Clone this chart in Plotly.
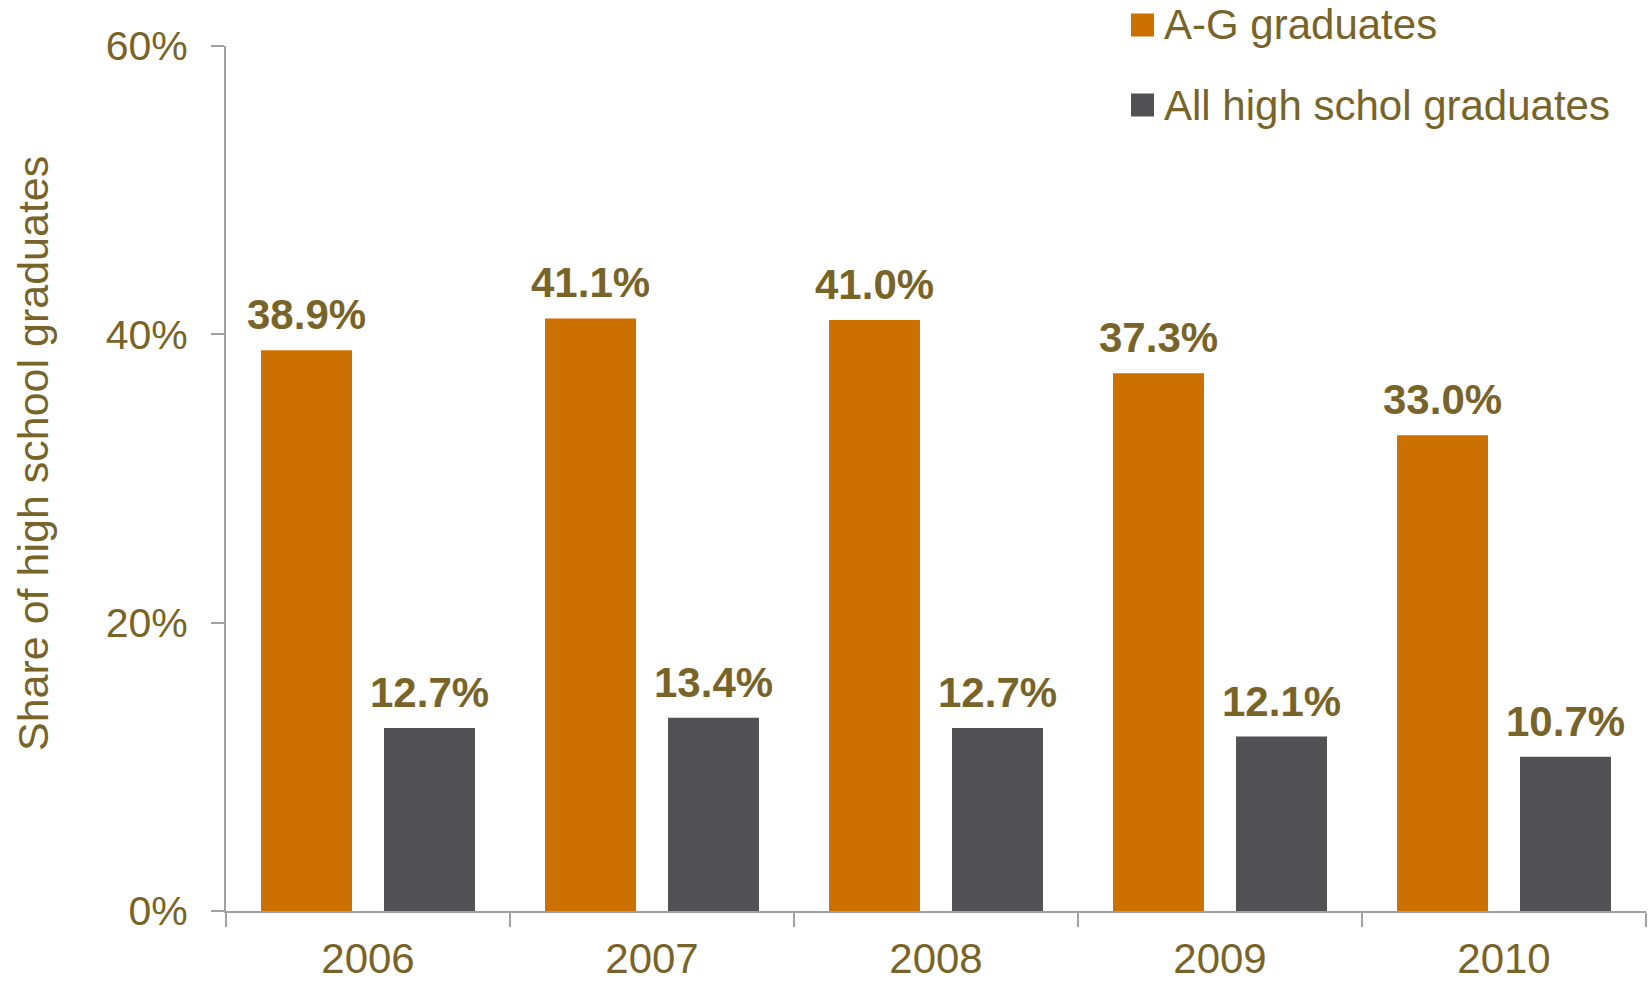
import plotly.graph_objects as go

years = ["2006", "2007", "2008", "2009", "2010"]
series_names = ["A-G graduates", "All high schol graduates"]
ag_values = [38.9, 41.1, 41.0, 37.3, 33.0]
all_values = [12.7, 13.4, 12.7, 12.1, 10.7]
y_ticks = [0, 20, 40, 60]
y_tick_labels = ["0%", "20%", "40%", "60%"]
y_title = "Share of high school graduates"

ORANGE = "#CC7000"
GRAY = "#525254"
TEXT = "#786428"
AXIS = "#A0A0A0"
FONT = "Liberation Sans, Arial, sans-serif"

W, H = 1649, 983
L, R, T, B = 226, 3, 46, 72
PW, PH = W - L - R, H - T - B
BARGAP, BARGROUPGAP = 0.134, 0.26

fig = go.Figure()
series = [(series_names[0], ag_values, ORANGE), (series_names[1], all_values, GRAY)]
for name, vals, col in series:
    fig.add_trace(go.Bar(
        x=years, y=vals, name=name, marker=dict(color=col, line=dict(width=0)),
        showlegend=False, hoverinfo="x+y",
    ))

# value labels: centred over each bar of the group (x given as category index)
cat_px = PW / len(years)
slot_px = (1 - BARGAP) * cat_px / len(series)
for i, (name, vals, col) in enumerate(series):
    shift = (i - (len(series) - 1) / 2) * slot_px
    for j, v in enumerate(vals):
        fig.add_annotation(x=j, y=v, xref="x", yref="y", text=f"<b>{v:.1f}%</b>",
                           showarrow=False, xanchor="center", yanchor="bottom",
                           xshift=shift, yshift=10,
                           font=dict(family=FONT, size=42, color=TEXT))

# legend drawn manually (larger swatches than plotly's legend allows)
def px_x(p):
    return (p - L) / PW

def px_y(p):
    return (H - B - p) / PH

legend_rows = [(series_names[0], ORANGE, 25), (series_names[1], GRAY, 105)]
for name, col, cy in legend_rows:
    fig.add_shape(type="rect", xref="paper", yref="paper",
                  x0=px_x(1131), x1=px_x(1154), y0=px_y(cy - 11.5), y1=px_y(cy + 11.5),
                  fillcolor=col, line=dict(width=0))
    fig.add_annotation(xref="paper", yref="paper", x=px_x(1162), y=px_y(cy),
                       xanchor="left", yanchor="middle", text=name, showarrow=False,
                       font=dict(family=FONT, size=42, color=TEXT))

# y-axis title
fig.add_annotation(xref="paper", yref="paper", x=px_x(33), y=px_y(454),
                   xanchor="center", yanchor="middle", textangle=-90, text=y_title,
                   showarrow=False, font=dict(family=FONT, size=43, color=TEXT))

fig.update_layout(
    width=W, height=H,
    margin=dict(l=L, r=R, t=T, b=B, autoexpand=False),
    paper_bgcolor="white", plot_bgcolor="white",
    barmode="group", bargap=BARGAP, bargroupgap=BARGROUPGAP,
    font=dict(family=FONT, color=TEXT),
    showlegend=False,
)
fig.update_yaxes(
    range=[0, 60], tickvals=y_ticks, ticktext=y_tick_labels,
    showgrid=False, zeroline=False, showline=True, linecolor=AXIS, linewidth=2,
    ticks="outside", ticklen=13, tickwidth=2, tickcolor=AXIS,
    tickfont=dict(family=FONT, size=41, color=TEXT), ticklabelstandoff=15,
)
fig.update_xaxes(
    type="category", categoryorder="array", categoryarray=years,
    range=[-0.5, len(years) - 0.5],
    showgrid=False, showline=True, linecolor=AXIS, linewidth=2,
    ticks="outside", tickson="boundaries", ticklen=14, tickwidth=2, tickcolor=AXIS,
    tickfont=dict(family=FONT, size=42, color=TEXT), ticklabelstandoff=10,
)

fig.write_html("out.html", config={"displayModeBar": False},
               post_script="document.body.style.margin='0';document.body.style.overflow='hidden';")
